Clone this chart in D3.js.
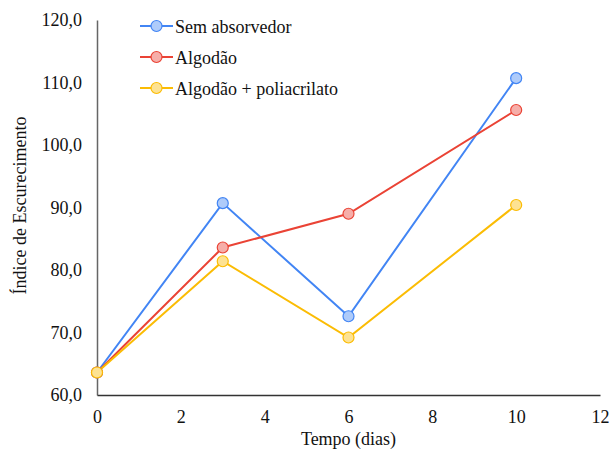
<!DOCTYPE html>
<html>
<head>
<meta charset="utf-8">
<script src="https://cdn.jsdelivr.net/npm/d3@7"></script>
<style>
  body { margin: 0; background: #fff; }
  svg text { font-family: "Liberation Serif", "Times New Roman", serif; fill: #111; }
</style>
</head>
<body>
<svg id="chart" width="611" height="450"></svg>
<script>
const days = [0, 3, 6, 10];
const semAbsorvedor = [63.6, 90.7, 72.6, 110.7];
const algodao = [63.6, 83.6, 89.0, 105.6];
const algodaoPoli = [63.6, 81.4, 69.2, 90.4];
const seriesNames = ["Sem absorvedor", "Algodão", "Algodão + poliacrilato"];
const xTicks = [0, 2, 4, 6, 8, 10, 12];
const yTicks = [60, 70, 80, 90, 100, 110, 120];

const colors = [
  { line: "#4285f4", fill: "#aecbfa" },
  { line: "#ea4335", fill: "#f6aea9" },
  { line: "#fbbc04", fill: "#fde293" }
];

const svg = d3.select("#chart");
const margin = { top: 20, right: 11, bottom: 55, left: 97 };
const width = +svg.attr("width") - margin.left - margin.right;
const height = +svg.attr("height") - margin.top - margin.bottom;

const g = svg.append("g").attr("transform", `translate(${margin.left},${margin.top})`);

const x = d3.scaleLinear().domain([0, 12]).range([0, width]);
const y = d3.scaleLinear().domain([60, 120]).range([height, 0]);

const fmt = d => d.toFixed(1).replace(".", ",");

// y axis
const yAxis = g.append("g")
  .call(d3.axisLeft(y).tickValues(yTicks).tickFormat(fmt).tickSize(0).tickPadding(15));
yAxis.attr("font-family", null).attr("font-size", null);
yAxis.select(".domain").attr("stroke", "#666").attr("stroke-width", 1.5);
yAxis.selectAll("text").style("font-size", "18px");

// x axis
const xAxis = g.append("g")
  .attr("transform", `translate(0,${height})`)
  .call(d3.axisBottom(x).tickValues(xTicks).tickSize(0).tickPadding(15));
xAxis.attr("font-family", null).attr("font-size", null);
xAxis.select(".domain").attr("stroke", "#333").attr("stroke-width", 1.5);
xAxis.selectAll("text").style("font-size", "18px");

// axis titles
svg.append("text")
  .attr("x", margin.left + width / 2)
  .attr("y", 445)
  .attr("text-anchor", "middle")
  .style("font-size", "18px")
  .text("Tempo (dias)");

svg.append("text")
  .attr("transform", `translate(26,${margin.top + height / 2 - 2}) rotate(-90)`)
  .attr("text-anchor", "middle")
  .style("font-size", "18px")
  .text("Índice de Escurecimento");

const allSeries = [semAbsorvedor, algodao, algodaoPoli];
const line = d3.line().x((d, i) => x(days[i])).y(d => y(d));

allSeries.forEach((vals, k) => {
  g.append("path")
    .datum(vals)
    .attr("fill", "none")
    .attr("stroke", colors[k].line)
    .attr("stroke-width", 2)
    .attr("d", line);
});

allSeries.forEach((vals, k) => {
  g.selectAll(null)
    .data(vals)
    .enter()
    .append("circle")
    .attr("cx", (d, i) => x(days[i]))
    .attr("cy", d => y(d))
    .attr("r", 5.5)
    .attr("fill", colors[k].fill)
    .attr("stroke", colors[k].line)
    .attr("stroke-width", 1.2);
});

// legend
const legend = svg.append("g").attr("transform", "translate(140,26)");
seriesNames.forEach((name, k) => {
  const row = legend.append("g").attr("transform", `translate(0,${k * 31})`);
  row.append("line")
    .attr("x1", 0).attr("x2", 33)
    .attr("stroke", colors[k].line).attr("stroke-width", 2);
  row.append("circle")
    .attr("cx", 16.5).attr("r", 5.5)
    .attr("fill", colors[k].fill)
    .attr("stroke", colors[k].line)
    .attr("stroke-width", 1.2);
  row.append("text")
    .attr("x", 35).attr("y", 6.5)
    .style("font-size", "18px")
    .text(name);
});
</script>
</body>
</html>
